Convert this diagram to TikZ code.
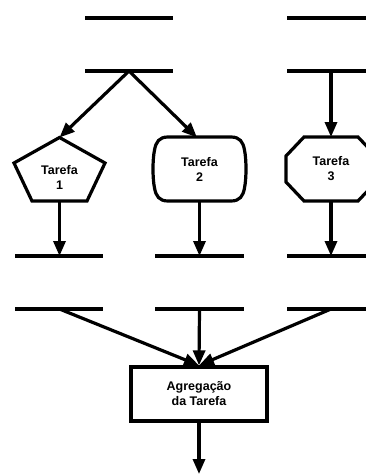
\documentclass[tikz,border=0pt]{standalone}
\usepackage{fontspec}
\setmainfont{Liberation Sans}
\usetikzlibrary{arrows.meta}
\begin{document}
\begin{tikzpicture}[x=1pt,y=-1pt,
  bar/.style={line width=3.2pt},
  shp/.style={line width=3.2pt, line join=miter},
  conn/.style={line width=3.2pt, -{Triangle[length=15pt,width=12pt]}},
  lbl/.style={font=\fontsize{12.5}{15}\selectfont\bfseries, align=center, inner sep=0pt}]
\useasboundingbox (0,0) rectangle (366,474);
\clip (0,0) rectangle (366,474);
\fill[white] (0,0) rectangle (366,474);
% bar coordinates
\coordinate (a1l) at (85,18);  \coordinate (a1r) at (173,18);
\coordinate (a2l) at (287,18); \coordinate (a2r) at (375,18);
\coordinate (b1l) at (85,71);  \coordinate (b1r) at (173,71); \coordinate (b1) at (129,71);
\coordinate (b2l) at (287,71); \coordinate (b2r) at (375,71); \coordinate (b2) at (331,71);
\coordinate (c1l) at (15,256);  \coordinate (c1r) at (103,256); \coordinate (c1) at (59.5,256);
\coordinate (c2l) at (155,256); \coordinate (c2r) at (244,256); \coordinate (c2) at (199.5,256);
\coordinate (c3l) at (287,256); \coordinate (c3r) at (375,256); \coordinate (c3) at (331,256);
\coordinate (d1l) at (15,309);  \coordinate (d1r) at (103,309); \coordinate (d1) at (59.5,309);
\coordinate (d2l) at (155,309); \coordinate (d2r) at (244,309); \coordinate (d2) at (199.5,309);
\coordinate (d3l) at (287,309); \coordinate (d3r) at (375,309); \coordinate (d3) at (331,309);
\foreach \p in {a1,a2,b1,b2,c1,c2,c3,d1,d2,d3} \draw[bar] (\p l) -- (\p r);
% task 1 pentagon
\coordinate (p1top) at (59.5,137.5);
\coordinate (p1bot) at (59.5,201);
\draw[shp] (p1top) -- (105,163) -- (87,201) -- (32,201) -- (14,163) -- cycle;
\node[lbl] (t1) at (59.5,177.5) {Tarefa\\1};
% task 2 rounded bulged box
\coordinate (p2top) at (199.5,137);
\coordinate (p2bot) at (199.5,201);
\draw[shp] (168,137) -- (231,137) .. controls (240,137) and (243,142) .. (244.5,150)
  .. controls (246.5,160) and (246.5,178) .. (244.5,188)
  .. controls (243,196) and (240,201) .. (231,201) -- (168,201)
  .. controls (159,201) and (156,196) .. (154.5,188)
  .. controls (152.5,178) and (152.5,160) .. (154.5,150)
  .. controls (156,142) and (159,137) .. (168,137) -- cycle;
\node[lbl] (t2) at (199.5,169) {Tarefa\\2};
% task 3 octagon
\coordinate (p3top) at (331,137);
\coordinate (p3bot) at (331,201);
\draw[shp] (304,137) -- (358,137) -- (376,156) -- (376,182) -- (358,201) -- (304,201) -- (286,182) -- (286,156) -- cycle;
\node[lbl] (t3) at (331,169) {Tarefa\\3};
% aggregation box
\node[draw, line width=3.2pt, minimum width=136pt, minimum height=54pt, inner sep=0pt] (agg) at (199,394) {};
\node[lbl] (aggt) at (agg.center) {Agregação\\da Tarefa};
\coordinate (out) at (199,474);
% connectors
\draw[conn] (b1) -- (p1top);
\draw[conn] (b1) -- (197,137.5);
\draw[conn] (b2) -- (p3top);
\draw[conn] (p1bot) -- (c1);
\draw[conn] (p2bot) -- (c2);
\draw[conn] (p3bot) -- (c3);
\draw[conn] (d1) -- (agg.north);
\draw[conn] (d2) -- (agg.north);
\draw[conn] (d3) -- (agg.north);
\draw[conn] (agg.south) -- (out);
\end{tikzpicture}
\end{document}
